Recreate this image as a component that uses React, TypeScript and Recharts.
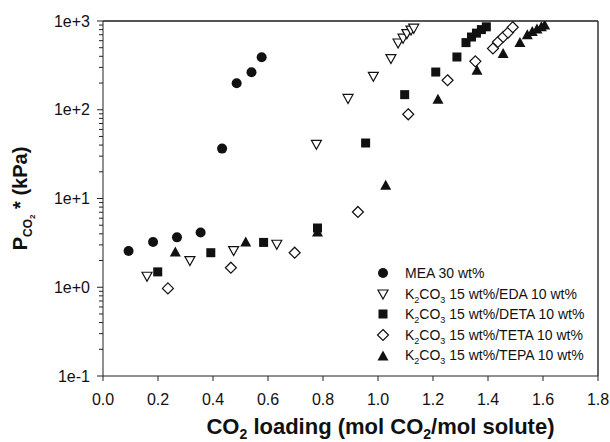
import React from "react";
import { Legend, ReferenceLine, Scatter, ScatterChart, XAxis, YAxis } from "recharts";

// CO2 loading (mol CO2/mol solute) and equilibrium pressure (kPa)
const meaLoading = [0.093, 0.182, 0.269, 0.355, 0.433, 0.486, 0.54, 0.577];
const meaPressure = [2.56, 3.24, 3.65, 4.13, 36.5, 199, 264, 390];

const edaLoading = [0.16, 0.316, 0.475, 0.632, 0.776, 0.891, 0.983, 1.047, 1.073, 1.091, 1.105, 1.12, 1.13];
const edaPressure = [1.33, 2.0, 2.59, 3.05, 40.8, 134, 238, 377, 565, 640, 720, 790, 830];

const detaLoading = [0.199, 0.392, 0.584, 0.78, 0.955, 1.097, 1.21, 1.287, 1.32, 1.34, 1.358, 1.376, 1.394];
const detaPressure = [1.49, 2.45, 3.2, 4.65, 42.2, 148, 266, 393, 571, 660, 730, 800, 860];

const tetaLoading = [0.236, 0.465, 0.697, 0.927, 1.11, 1.253, 1.354, 1.418, 1.436, 1.455, 1.473, 1.49];
const tetaPressure = [0.97, 1.66, 2.45, 7.05, 88.9, 215, 351, 490, 580, 660, 740, 850];

const tepaLoading = [0.263, 0.519, 0.78, 1.028, 1.218, 1.36, 1.455, 1.516, 1.543, 1.561, 1.578, 1.594, 1.606];
const tepaPressure = [2.5, 3.24, 4.2, 14.1, 131, 279, 430, 571, 700, 760, 810, 860, 900];

const xTicks = [0, 0.2, 0.4, 0.6, 0.8, 1.0, 1.2, 1.4, 1.6, 1.8];
const yMajor = [0.1, 1, 10, 100, 1000];
const yLabels = ["1e-1", "1e+0", "1e+1", "1e+2", "1e+3"];
const yMinor = [
  0.2, 0.3, 0.4, 0.5, 0.6, 0.7, 0.8, 0.9,
  2, 3, 4, 5, 6, 7, 8, 9,
  20, 30, 40, 50, 60, 70, 80, 90,
  200, 300, 400, 500, 600, 700, 800, 900,
];

const ink = "#111";

const zip = (xs: number[], ys: number[]) => xs.map((x, i) => ({ x, y: ys[i] }));

type Marker = "circle" | "triangleDown" | "square" | "diamond" | "triangleUp";

function drawMarker(kind: Marker, cx: number, cy: number) {
  switch (kind) {
    case "circle":
      return <circle cx={cx} cy={cy} r={5} fill={ink} />;
    case "triangleDown":
      return (
        <polygon
          points={`${cx - 5},${cy - 4} ${cx + 5},${cy - 4} ${cx},${cy + 5}`}
          fill="#fff"
          stroke={ink}
          strokeWidth={1.2}
        />
      );
    case "square":
      return <rect x={cx - 4.5} y={cy - 4.5} width={9} height={9} fill={ink} />;
    case "diamond":
      return (
        <polygon
          points={`${cx},${cy - 5.5} ${cx + 5.5},${cy} ${cx},${cy + 5.5} ${cx - 5.5},${cy}`}
          fill="#fff"
          stroke={ink}
          strokeWidth={1.2}
        />
      );
    default:
      return (
        <polygon
          points={`${cx},${cy - 5.5} ${cx + 5.5},${cy + 4.5} ${cx - 5.5},${cy + 4.5}`}
          fill={ink}
        />
      );
  }
}

const series: { name: string; amine: string | null; marker: Marker; data: { x: number; y: number }[] }[] = [
  { name: "MEA 30 wt%", amine: null, marker: "circle", data: zip(meaLoading, meaPressure) },
  { name: "EDA", amine: "EDA", marker: "triangleDown", data: zip(edaLoading, edaPressure) },
  { name: "DETA", amine: "DETA", marker: "square", data: zip(detaLoading, detaPressure) },
  { name: "TETA", amine: "TETA", marker: "diamond", data: zip(tetaLoading, tetaPressure) },
  { name: "TEPA", amine: "TEPA", marker: "triangleUp", data: zip(tepaLoading, tepaPressure) },
];

function YTick(props: any) {
  const { x, y, payload } = props;
  const i = yMajor.indexOf(payload.value);
  const major = i >= 0;
  return (
    <g>
      <line x1={x - (major ? 6 : 4)} x2={x} y1={y} y2={y} stroke="#222" />
      {major && (
        <text x={x - 13} y={y} dy="0.35em" textAnchor="end" fontSize={16} fill={ink}>
          {yLabels[i]}
        </text>
      )}
    </g>
  );
}

function XTitle(props: any) {
  const { viewBox } = props;
  const cx = viewBox.x + viewBox.width / 2 + 30;
  const y = viewBox.y + 58;
  return (
    <text x={cx} y={y} textAnchor="middle" fontSize={22} fontWeight="bold" fill={ink}>
      CO
      <tspan fontSize={14} dy={5}>2</tspan>
      <tspan dy={-5}> loading (mol CO</tspan>
      <tspan fontSize={14} dy={5}>2</tspan>
      <tspan dy={-5}>/mol solute)</tspan>
    </text>
  );
}

function YTitle(props: any) {
  const { viewBox } = props;
  const cx = viewBox.x + 20;
  const cy = viewBox.y + viewBox.height / 2;
  return (
    <text
      x={cx}
      y={cy}
      dy="0.35em"
      transform={`rotate(-90 ${cx} ${cy})`}
      textAnchor="middle"
      fontSize={20}
      fontWeight="bold"
      fill={ink}
    >
      P
      <tspan fontSize={12} dy={5}>CO</tspan>
      <tspan fontSize={8} dy={3}>2</tspan>
      <tspan dy={-8}> * (kPa)</tspan>
    </text>
  );
}

function LegendBox() {
  return (
    <div style={{ fontSize: 14, color: ink, lineHeight: "20.6px" }}>
      {series.map((s) => (
        <div key={s.name} style={{ display: "flex", alignItems: "center", height: 20.6 }}>
          <svg width={18} height={14} style={{ marginRight: 13 }}>
            {drawMarker(s.marker, 9, 7)}
          </svg>
          {s.amine ? (
            <span>
              K<sub style={{ fontSize: 9, verticalAlign: "-4px", lineHeight: 0 }}>2</sub>CO
              <sub style={{ fontSize: 9, verticalAlign: "-4px", lineHeight: 0 }}>3</sub> 15 wt%/{s.amine} 10 wt%
            </span>
          ) : (
            <span>{s.name}</span>
          )}
        </div>
      ))}
    </div>
  );
}

export default function App() {
  return (
    <div style={{ position: "absolute", left: 0, top: 0, fontFamily: "'Liberation Sans', Arial, sans-serif" }}>
      <ScatterChart width={610} height={442} margin={{ top: 21, right: 12, bottom: 0, left: 0 }}>
        <XAxis
          type="number"
          dataKey="x"
          domain={[0, 1.8]}
          ticks={xTicks}
          interval={0}
          tickFormatter={(v: number) => v.toFixed(1)}
          height={66}
          tickSize={5}
          tickMargin={13}
          tick={{ fill: ink, fontSize: 16 }}
          stroke="#222"
          label={{ content: XTitle }}
        />
        <YAxis
          type="number"
          dataKey="y"
          scale="log"
          domain={[0.1, 1000]}
          allowDataOverflow
          ticks={[...yMajor, ...yMinor]}
          interval={0}
          width={103}
          tickSize={0}
          tickMargin={0}
          tickLine={false}
          tick={YTick}
          stroke="#222"
          label={{ content: YTitle }}
        />
        <ReferenceLine y={1000} stroke="#555" strokeWidth={2} />
        <ReferenceLine x={1.8} stroke="#333" strokeWidth={1.5} />
        {series.map((s) => (
          <Scatter
            key={s.name}
            name={s.name}
            data={s.data}
            isAnimationActive={false}
            shape={(p: any) => drawMarker(s.marker, p.cx, p.cy)}
          />
        ))}
        <Legend
          layout="vertical"
          align="center"
          verticalAlign="middle"
          width={236}
          wrapperStyle={{ left: 374, top: 263 }}
          content={LegendBox}
        />
      </ScatterChart>
    </div>
  );
}
